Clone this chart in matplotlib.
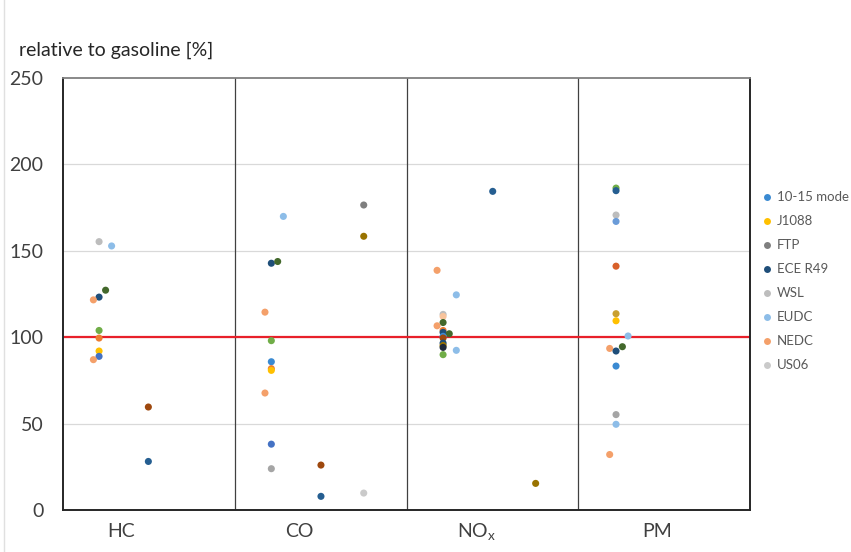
import matplotlib
matplotlib.use("Agg")
import matplotlib.pyplot as plt
from matplotlib.lines import Line2D

plt.rcParams['font.family'] = ['Lato', 'DejaVu Sans']
plt.rcParams['mathtext.fontset'] = 'custom'
plt.rcParams['mathtext.rm'] = 'Lato'
plt.rcParams['mathtext.it'] = 'Lato:italic'

# ---------------- data ----------------
categories = ['HC', 'CO', 'NO$_\\mathregular{x}$', 'PM']
category_label_x = [0.34, 1.374, 2.41, 3.46]
y_ticks = [0, 50, 100, 150, 200, 250]
y_label = 'relative to gasoline [%]'
reference_value = 100

legend_names = ['10-15 mode', 'J1088', 'FTP', 'ECE R49', 'WSL', 'EUDC', 'NEDC', 'US06']

hc_x = [0.21, 0.283, 0.248, 0.21, 0.177, 0.21, 0.21, 0.21, 0.21, 0.177, 0.497, 0.497]
hc_y = [155.3, 152.8, 127.2, 123.2, 121.6, 103.9, 99.5, 92.0, 88.9, 87.0, 59.6, 28.1]
hc_s = ['WSL', 'EUDC', 'dkgreen', 'ECE R49', 'NEDC', 'green', 'orange', 'J1088', 'blue', 'NEDC', 'brown', 'dkblue']

co_x = [1.751, 1.283, 1.751, 1.213, 1.25, 1.176, 1.213, 1.213, 1.213, 1.213, 1.176, 1.213, 1.213, 1.502, 1.502, 1.751]
co_y = [176.5, 169.9, 158.4, 142.8, 143.8, 114.5, 98.0, 85.8, 81.8, 80.8, 67.7, 38.1, 23.9, 26.0, 7.9, 9.8]
co_s = ['FTP', 'EUDC', 'dkgold', 'ECE R49', 'dkgreen', 'NEDC', 'green', '10-15 mode', 'orange', 'J1088', 'NEDC', 'blue', 'gray', 'brown', 'dkblue', 'US06']

nox_x = [2.502, 2.178, 2.29, 2.213, 2.213, 2.213, 2.178, 2.213, 2.213, 2.249, 2.213, 2.213, 2.213, 2.213, 2.213, 2.29, 2.213, 2.752]
nox_y = [184.4, 138.7, 124.5, 113.2, 112.0, 108.5, 106.6, 103.9, 102.8, 102.0, 100.5, 99.5, 96.6, 95.2, 94.1, 92.4, 89.9, 15.4]
nox_s = ['dkblue', 'NEDC', 'EUDC', 'WSL', 'peach', 'dkgreen', 'NEDC', 'orange', 'ECE R49', 'dkgreen', '10-15 mode', 'brown', 'ECE R49', 'dkgold', 'black', 'EUDC', 'green', 'dkgold']

pm_x = [3.22, 3.22, 3.22, 3.22, 3.22, 3.22, 3.22, 3.29, 3.183, 3.257, 3.22, 3.22, 3.22, 3.22, 3.183]
pm_y = [186.3, 184.8, 170.7, 167.0, 141.1, 113.6, 109.5, 100.7, 93.5, 94.5, 92.0, 83.3, 55.2, 49.6, 32.1]
pm_s = ['green', 'dkblue', 'WSL', 'ltblue2', 'redorange', 'gold2', 'J1088', 'EUDC', 'NEDC', 'dkgreen', 'ECE R49', '10-15 mode', 'gray', 'EUDC', 'NEDC']

# ---------------- styles ----------------
colors = {
    '10-15 mode': '#3A8AD2', 'J1088': '#FFC000', 'FTP': '#7F7F7F', 'ECE R49': '#1F4E79',
    'WSL': '#BDBDBD', 'EUDC': '#8DBDE8', 'NEDC': '#F4A06A', 'US06': '#CACACA',
    'dkgreen': '#43682B', 'green': '#70AD47', 'orange': '#ED7D31', 'blue': '#4472C4',
    'brown': '#9E480E', 'dkblue': '#255E91', 'dkgold': '#997300', 'gray': '#A5A5A5',
    'peach': '#F8C49C', 'black': '#1F2A3A', 'ltblue2': '#6A9BD8', 'redorange': '#D8602A',
    'gold2': '#C9A030',
}

W, H = 851, 552
fig = plt.figure(figsize=(W / 100, H / 100), dpi=100)
L, R, B, T = 63, 750, 510, 78
ax = fig.add_axes([L / W, 1 - B / H, (R - L) / W, (B - T) / H])

ax.set_xlim(0, 4)
ax.set_ylim(0, 250)
ax.set_yticks(y_ticks)
ax.set_xticks([])
ax.tick_params(axis='y', length=0, pad=14, labelsize=14, labelcolor='#404040')
for v in y_ticks[1:-1]:
    ax.axhline(v, color='#D9D9D9', lw=0.9, zorder=0)
for v in [1, 2, 3]:
    ax.axvline(v, color='#404040', lw=0.9, zorder=1)

for side in ['left', 'bottom', 'right']:
    ax.spines[side].set_color('#262626')
    ax.spines[side].set_linewidth(1.4)
ax.spines['top'].set_color('#808080')
ax.spines['top'].set_linewidth(1.3)

ax.axhline(reference_value, color='#E8202A', lw=1.6, zorder=2)

for xs, ys, ss in [(hc_x, hc_y, hc_s), (co_x, co_y, co_s), (nox_x, nox_y, nox_s), (pm_x, pm_y, pm_s)]:
    for x, y, s in zip(xs, ys, ss):
        ax.scatter([x], [y], s=26, color=colors[s], edgecolors='none', zorder=3)

trans = ax.get_xaxis_transform()
for lab, x in zip(categories, category_label_x):
    ax.text(x, -0.05, lab, transform=trans, ha='center', va='center', fontsize=14, color='#404040')

fig.text(19 / W, 1 - 50 / H, y_label, ha='left', va='center', fontsize=14, color='#262626')

# legend
for i, name in enumerate(legend_names):
    ypx = 197 + 24 * i
    fig.add_artist(Line2D([767 / W], [1 - ypx / H], marker='o', markersize=5, color=colors[name],
                          markeredgewidth=0, linestyle='none', transform=fig.transFigure))
    fig.text(777 / W, 1 - ypx / H, name, ha='left', va='center', fontsize=9.5, color='#595959')

fig.add_artist(Line2D([4 / W, 4 / W], [0, 1], color='#E0E0E0', lw=1, transform=fig.transFigure))

fig.savefig('out.png', dpi=100)
